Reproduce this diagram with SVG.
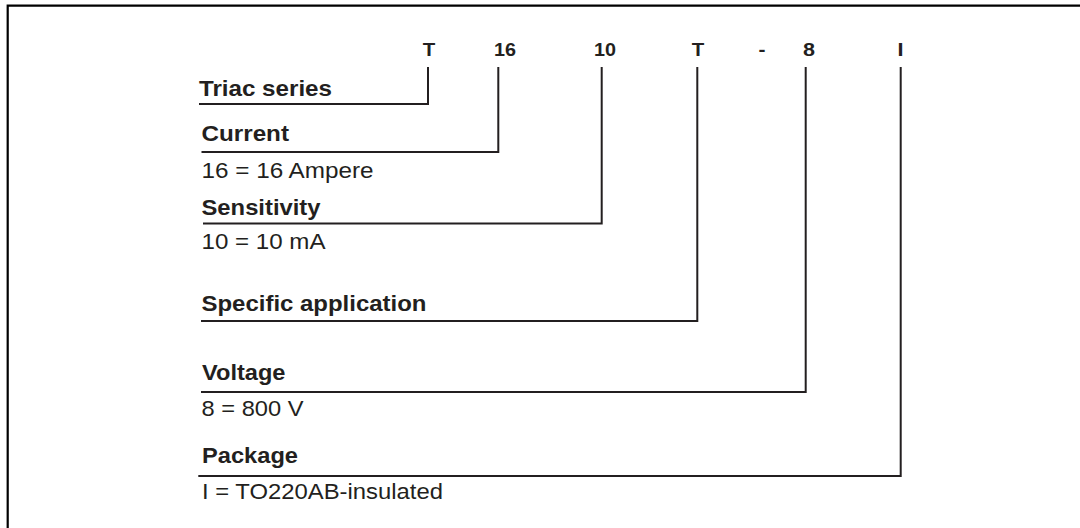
<svg xmlns="http://www.w3.org/2000/svg" width="1080" height="528" viewBox="0 0 1080 528">
<style>
text{font-family:"Liberation Sans",Arial,sans-serif;fill:#231f20}
.code{font-size:19px;font-weight:bold;text-anchor:middle}
.lab{font-size:21.5px;font-weight:bold}
.val{font-size:21.5px}
.conn{fill:none;stroke:#231f20;stroke-width:2;stroke-linejoin:miter;stroke-linecap:butt}
.frame{fill:none;stroke:#000;stroke-width:2.2}
</style>
<rect width="1080" height="528" fill="#fff"/>
<path class="frame" d="M7.7,528 V5.7 H1080"/>
<g id="code">
<text class="code" x="429" y="55.5" textLength="12.5" lengthAdjust="spacingAndGlyphs">T</text>
<text class="code" x="505" y="55.5" textLength="22" lengthAdjust="spacingAndGlyphs">16</text>
<text class="code" x="605" y="55.5" textLength="22" lengthAdjust="spacingAndGlyphs">10</text>
<text class="code" x="698" y="55.5" textLength="12.5" lengthAdjust="spacingAndGlyphs">T</text>
<text class="code" x="762" y="55.5" textLength="7" lengthAdjust="spacingAndGlyphs">-</text>
<text class="code" x="809" y="55.5" textLength="12" lengthAdjust="spacingAndGlyphs">8</text>
<text class="code" x="900.5" y="55.5" textLength="6" lengthAdjust="spacingAndGlyphs">I</text>
</g>
<g id="triac-series">
<text class="lab" x="199" y="96" textLength="133" lengthAdjust="spacingAndGlyphs">Triac series</text>
</g>
<g id="current">
<text class="lab" x="201.5" y="140.5" textLength="87.5" lengthAdjust="spacingAndGlyphs">Current</text>
<text class="val" x="201.5" y="177.5" textLength="172" lengthAdjust="spacingAndGlyphs">16 = 16 Ampere</text>
</g>
<g id="sensitivity">
<text class="lab" x="201.5" y="214.5" textLength="119" lengthAdjust="spacingAndGlyphs">Sensitivity</text>
<text class="val" x="201.5" y="249" textLength="124" lengthAdjust="spacingAndGlyphs">10 = 10 mA</text>
</g>
<g id="specific-application">
<text class="lab" x="201.5" y="310.5" textLength="225" lengthAdjust="spacingAndGlyphs">Specific application</text>
</g>
<g id="voltage">
<text class="lab" x="202" y="380" textLength="83.5" lengthAdjust="spacingAndGlyphs">Voltage</text>
<text class="val" x="201.5" y="415.5" textLength="102" lengthAdjust="spacingAndGlyphs">8 = 800 V</text>
</g>
<g id="package">
<text class="lab" x="202" y="463" textLength="96" lengthAdjust="spacingAndGlyphs">Package</text>
<text class="val" x="202" y="498.5" textLength="241" lengthAdjust="spacingAndGlyphs">I = TO220AB-insulated</text>
</g>
<g id="connectors">
<polyline class="conn" points="428,67 428,104 199,104"/>
<polyline class="conn" points="498.3,67 498.3,152 201.5,152"/>
<polyline class="conn" points="601.7,67 601.7,223.5 203,223.5"/>
<polyline class="conn" points="697.3,67 697.3,321 201,321"/>
<polyline class="conn" points="805.7,67 805.7,392 201,392"/>
<polyline class="conn" points="900.7,67 900.7,476 198.3,476"/>
</g>
</svg>
